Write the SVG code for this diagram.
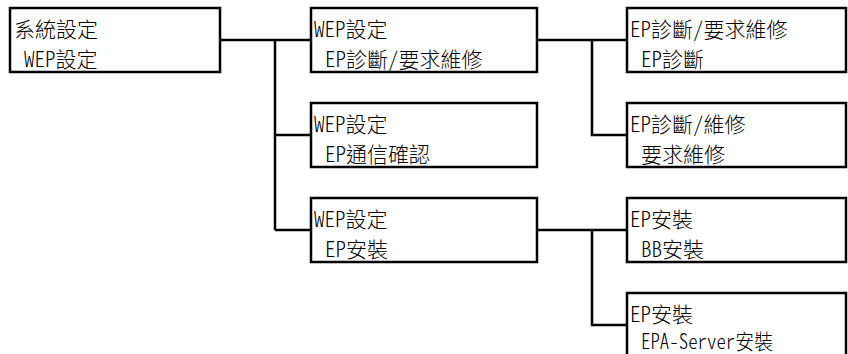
<svg xmlns="http://www.w3.org/2000/svg" width="848" height="354" viewBox="0 0 848 354">
<style>
.box{fill:#fff;stroke:#000;stroke-width:2.5}
.c{fill:none;stroke:#000;stroke-width:2.5}
text{font-family:"Noto Sans CJK TC","Noto Sans CJK JP",sans-serif;font-size:21px;font-weight:300;fill:#000;font-feature-settings:"hwid" 1}
</style>
<rect width="848" height="354" fill="#fff"/>
<g id="connectors">
<path class="c" d="M220,40H311M275,40V230M275,135H311M275,230H311"/>
<path class="c" d="M537,40H627M592,40V135H627"/>
<path class="c" d="M537,230H627M592,230V325H627"/>
</g>
<g id="n1"><rect class="box" x="10" y="8" width="210" height="64"/>
<text x="14" y="37">系統設定</text><text x="24" y="67">WEP設定</text></g>
<g id="n2"><rect class="box" x="311" y="8" width="226" height="64"/>
<text x="314" y="37">WEP設定</text><text x="325" y="67">EP診斷/要求維修</text></g>
<g id="n3"><rect class="box" x="311" y="103" width="226" height="64"/>
<text x="314" y="132">WEP設定</text><text x="325" y="162">EP通信確認</text></g>
<g id="n4"><rect class="box" x="311" y="198" width="226" height="64"/>
<text x="314" y="227">WEP設定</text><text x="325" y="257">EP安裝</text></g>
<g id="n5"><rect class="box" x="627" y="8" width="219" height="64"/>
<text x="630" y="37">EP診斷/要求維修</text><text x="641" y="67">EP診斷</text></g>
<g id="n6"><rect class="box" x="627" y="103" width="219" height="64"/>
<text x="630" y="132">EP診斷/維修</text><text x="641" y="162">要求維修</text></g>
<g id="n7"><rect class="box" x="627" y="198" width="219" height="64"/>
<text x="630" y="227">EP安裝</text><text x="641" y="257">BB安裝</text></g>
<g id="n8"><rect class="box" x="627" y="293" width="219" height="64"/>
<text x="630" y="322">EP安裝</text><text x="641" y="349" textLength="132" lengthAdjust="spacingAndGlyphs">EPA-Server安裝</text></g>
</svg>
